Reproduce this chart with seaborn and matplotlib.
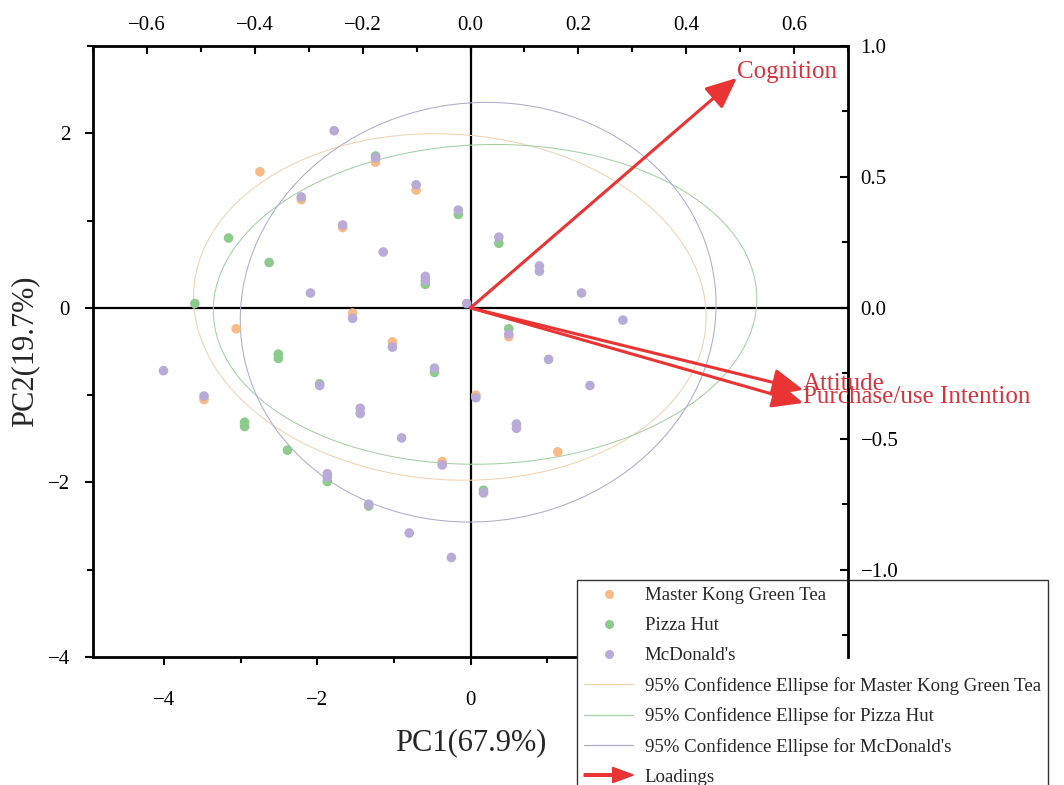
import numpy as np
import pandas as pd
import matplotlib
matplotlib.use("Agg")
import matplotlib.pyplot as plt
import seaborn as sns
from matplotlib.patches import Ellipse, FancyArrow
from matplotlib.lines import Line2D
from matplotlib.legend_handler import HandlerPatch
import matplotlib.ticker as mticker

# ---------------- data ----------------
groups = ["Master Kong Green Tea", "Pizza Hut", "McDonald's"]

mk_x = [-2.75, -1.24, -2.21, -1.67, -0.71, -3.06, -1.54, -1.02, -3.48, -0.37, 0.50, 0.07, 1.14]
mk_y = [1.56, 1.67, 1.24, 0.92, 1.35, -0.24, -0.06, -0.39, -1.05, -1.76, -0.33, -1.00, -1.65]

ph_x = [-1.24, -0.16, -3.16, -2.63, -0.59, -3.60, -2.51, -2.51, -0.47, -1.97, -2.95, -2.95,
        -2.39, -1.87, -1.33, 0.17, 0.37, 0.50]
ph_y = [1.74, 1.07, 0.80, 0.52, 0.27, 0.05, -0.53, -0.58, -0.74, -0.87, -1.31, -1.36,
        -1.63, -1.99, -2.27, -2.09, 0.74, -0.24]

mc_x = [-1.78, -1.24, -2.21, -1.67, -1.14, -0.71, -0.16, -2.09, -0.59, -0.59, -0.05, -1.54,
        -4.01, -1.02, -0.47, -1.97, -3.48, -1.44, -1.44, -0.90, -1.87, -0.37, -1.33, -0.80,
        -0.25, 0.17, 0.37, 0.90, 0.90, 1.45, 1.99, 0.50, 1.02, 1.56, 0.07, 0.60, 0.60, -1.87]
mc_y = [2.03, 1.72, 1.27, 0.95, 0.64, 1.41, 1.12, 0.17, 0.36, 0.31, 0.05, -0.12,
        -0.72, -0.45, -0.69, -0.89, -1.01, -1.15, -1.21, -1.49, -1.94, -1.80, -2.25, -2.58,
        -2.86, -2.12, 0.81, 0.48, 0.42, 0.17, -0.14, -0.30, -0.59, -0.89, -1.03, -1.33, -1.38, -1.90]

# 95% confidence ellipses (centre, semi-axes, rotation in degrees)
ell_cx = [-0.27, 0.19, 0.10]
ell_cy = [0.01, 0.04, -0.05]
ell_a = [3.35, 3.55, 3.11]
ell_b = [1.98, 1.83, 2.40]
ell_angle = [-3.0, 1.5, 4.0]

# loadings
variables = ["Cognition", "Attitude", "Purchase/use Intention"]
load_pc1 = [0.494, 0.617, 0.617]
load_pc2 = [0.878, -0.313, -0.363]

pc1_label = "PC1(67.9%)"
pc2_label = "PC2(19.7%)"

# ---------------- style ----------------
sns.set_theme(style="white")
plt.rcParams["font.family"] = ["Liberation Serif", "DejaVu Serif"]
plt.rcParams["axes.unicode_minus"] = True

pt_colors = ["#F8BA86", "#8CCB8C", "#B9AAD8"]
ell_colors = ["#F2D3B0", "#A3D0A3", "#AEACCB"]
red = "#EA3434"
red_text = "#D8323C"

W, H = 1064, 785
fig = plt.figure(figsize=(W / 100, H / 100), dpi=100)
pos = [93 / W, 1 - 657 / H, (848 - 93) / W, (657 - 46) / H]
ax = fig.add_axes(pos)

df = pd.DataFrame({
    "PC1": mk_x + ph_x + mc_x,
    "PC2": mk_y + ph_y + mc_y,
    "group": [groups[0]] * len(mk_x) + [groups[1]] * len(ph_x) + [groups[2]] * len(mc_x),
})

ax.axhline(0, color="black", lw=1.6, zorder=1)
ax.axvline(0, color="black", lw=1.6, zorder=1)

for i in range(3):
    ax.add_patch(Ellipse((ell_cx[i], ell_cy[i]), 2 * ell_a[i], 2 * ell_b[i], angle=ell_angle[i],
                         fill=False, edgecolor=ell_colors[i], lw=0.75, zorder=2))

sns.scatterplot(data=df, x="PC1", y="PC2", hue="group", hue_order=groups,
                palette=dict(zip(groups, pt_colors)), s=48, linewidth=0, ax=ax,
                legend=False, zorder=3)

ax.set_xlim(-4.93, 4.93)
ax.set_ylim(-4, 3)
ax.xaxis.set_major_locator(mticker.MultipleLocator(2))
ax.xaxis.set_minor_locator(mticker.MultipleLocator(1))
ax.yaxis.set_major_locator(mticker.MultipleLocator(2))
ax.yaxis.set_minor_locator(mticker.MultipleLocator(1))


def fmt_int(v, p):
    # tick labels to the right of the origin lie under the legend box
    if v > 1:
        return ""
    v = 0 if abs(v) < 1e-9 else v
    return f"{v:.0f}".replace("-", "\u2212")


ax.xaxis.set_major_formatter(mticker.FuncFormatter(fmt_int))
ax.tick_params(which="both", direction="out", width=1.5, labelsize=15, colors="black",
               top=False, right=False, bottom=True, left=True)
ax.tick_params(which="major", length=5.5)
ax.tick_params(which="minor", length=4.5)
ax.tick_params(axis="x", pad=19)
ax.tick_params(axis="y", pad=11)
for s in ["top", "right"]:
    ax.spines[s].set_visible(False)
for s in ["left", "bottom"]:
    ax.spines[s].set_linewidth(2.0)
    ax.spines[s].set_color("black")
ax.set_xlabel(pc1_label, fontsize=22, labelpad=13)
ax.set_ylabel(pc2_label, fontsize=22, labelpad=6)

# ---------------- loadings axes (top / right) ----------------
ax2 = fig.add_axes(pos)
ax2.patch.set_visible(False)
ax2.grid(False)
ax2.set_xlim(-0.7, 0.7)
ax2.set_ylim(-4 / 3, 1.0)
for s in ["left", "bottom"]:
    ax2.spines[s].set_visible(False)
for s in ["top", "right"]:
    ax2.spines[s].set_linewidth(2.0)
    ax2.spines[s].set_color("black")
ax2.xaxis.tick_top()
ax2.yaxis.tick_right()
ax2.xaxis.set_major_locator(mticker.MultipleLocator(0.2))
ax2.xaxis.set_minor_locator(mticker.MultipleLocator(0.1))
ax2.yaxis.set_major_locator(mticker.MultipleLocator(0.5))
ax2.yaxis.set_minor_locator(mticker.MultipleLocator(0.25))


def fmt(v, p):
    v = 0.0 if abs(v) < 1e-9 else v
    return f"{v:.1f}".replace("-", "\u2212")


ax2.xaxis.set_major_formatter(mticker.FuncFormatter(fmt))
ax2.yaxis.set_major_formatter(mticker.FuncFormatter(fmt))
ax2.tick_params(which="both", direction="in", width=1.5, labelsize=15, colors="black",
                top=True, right=True, bottom=False, left=False,
                labeltop=True, labelright=True, labelbottom=False, labelleft=False)
ax2.tick_params(which="major", length=5.5)
ax2.tick_params(which="minor", length=4.5)
ax2.tick_params(axis="x", pad=8)
ax2.tick_params(axis="y", pad=9)

for name, lx, ly in zip(variables, load_pc1, load_pc2):
    ax2.annotate("", xy=(lx, ly), xytext=(0, 0),
                 arrowprops=dict(arrowstyle="-|>,head_length=0.95,head_width=0.42",
                                 color=red, lw=2.2, mutation_scale=20,
                                 shrinkA=0, shrinkB=0))
    ax2.text(lx, ly, name, color=red_text, fontsize=18, ha="left", va="baseline")

# ---------------- legend ----------------


def make_arrow(legend, orig_handle, xdescent, ydescent, width, height, fontsize):
    return FancyArrow(-xdescent, height / 2 - ydescent, width, 0, length_includes_head=True,
                      width=height * 0.2, head_width=height * 1.15, head_length=width * 0.42,
                      color=red)


arrow_proxy = FancyArrow(0, 0, 1, 0, color=red)
handles = [Line2D([], [], marker="o", ls="", color=c, markersize=6.5, markeredgewidth=0)
           for c in pt_colors]
handles += [Line2D([], [], color=c, lw=0.9) for c in ell_colors]
handles += [arrow_proxy]
labels = groups + [f"95% Confidence Ellipse for {g}" for g in groups] + ["Loadings"]

leg = ax.legend(handles=handles, labels=labels, loc="upper left",
                bbox_to_anchor=(577 / W, 1 - 580 / H), bbox_transform=fig.transFigure,
                frameon=True, fancybox=False, edgecolor="#333333", framealpha=1,
                fontsize=13.6, handlelength=2.6, handletextpad=0.6, labelspacing=0.67,
                borderpad=0.38, borderaxespad=0,
                handler_map={FancyArrow: HandlerPatch(patch_func=make_arrow)})
leg.get_frame().set_linewidth(1.0)
leg.set_zorder(10)

fig.savefig("out.png", dpi=100)
